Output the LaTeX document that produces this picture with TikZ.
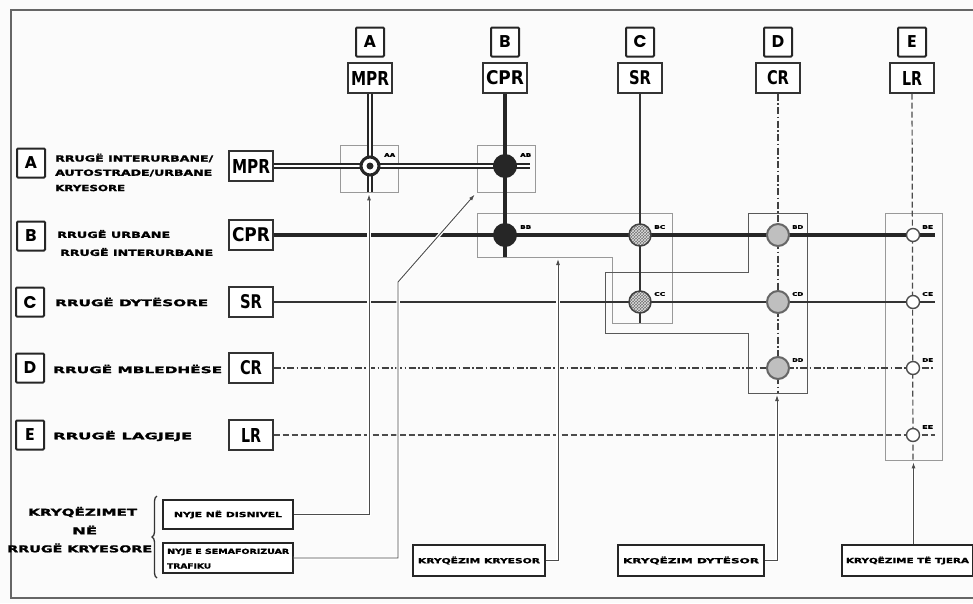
\documentclass[tikz,border=0pt]{standalone}
\usepackage{fontspec}
\usepackage{graphicx}
\usetikzlibrary{arrows.meta,patterns,decorations.pathreplacing}
\newfontfamily\lblfont{DejaVu Sans}[FakeBold=1.5]
\newfontfamily\codefont{DejaVu Sans Condensed}
\newfontfamily\letfont{Poppins}
\newcommand\lw[3]{\resizebox{#1pt}{\height}{\fontsize{#2}{#2}\selectfont\lblfont\bfseries #3}}
\newcommand\cw[2]{\resizebox{#1pt}{14pt}{\codefont\bfseries #2}}
\begin{document}
\begin{tikzpicture}[x=1pt,y=-1pt,
  letbox/.style={draw=black!85, line width=2, minimum width=28, minimum height=29, inner sep=0, fill=white, rounded corners=1, font=\letfont\bfseries\fontsize{17}{17}\selectfont},
  codebox/.style={draw=black!80, line width=1.2, minimum width=44, minimum height=30, inner sep=0, fill=white},
  grp/.style={draw=black!40, line width=0.8},
  grpd/.style={draw=black!65, line width=1},
  txtbox/.style={draw=black!85, line width=1.6, inner sep=0, fill=white},
  conn/.style={draw=black!70, line width=0.9, -{Latex[length=6pt,width=4pt]}, preaction={draw=white, line width=3.5, -}},
  roadA/.style={draw=black!85, line width=1.8, double=white, double distance=1.6},
  roadB/.style={draw=black!85, line width=4},
  roadC/.style={draw=black!80, line width=2.2},
  roadD/.style={draw=black!75, line width=1.4, dash pattern=on 7pt off 2.5pt on 1.5pt off 2.5pt},
  roadE/.style={draw=black!70, line width=1.2, dash pattern=on 6pt off 3pt},
  jblack/.style={circle, fill=black!85, minimum size=24, inner sep=0},
  jhatch/.style={circle, draw=black!75, line width=1.5, minimum size=22, inner sep=0, preaction={fill=black!55}, pattern=crosshatch, pattern color=gray!25},
  jgray/.style={circle, fill=gray!50, draw=black!60, line width=2, minimum size=22, inner sep=0},
  jwhite/.style={circle, fill=white, draw=black!70, line width=1.4, minimum size=13, inner sep=0},
  jring/.style={circle, fill=white, draw=black!85, line width=3, minimum size=18, inner sep=0},
  jl/.style={anchor=west, inner sep=0},
  tx/.style={anchor=west, inner sep=0}]
\useasboundingbox (0,0) rectangle (973,603);
\fill[gray!3] (0,0) rectangle (973,603);
\draw[black!60, line width=1.5] (973,10) -- (11,10) -- (11,598) -- (973,598);

% group boxes
\node[grp, minimum width=58, minimum height=47, inner sep=0] (gAA) at (369,168.5) {};
\node[grp, minimum width=58, minimum height=47, inner sep=0] (gAB) at (506,168.5) {};
\node[grp, minimum width=57, minimum height=247, inner sep=0] (gE) at (913.5,336.5) {};
\draw[grp] (477,213) -- (672,213) -- (672,323) -- (612,323) -- (612,257) -- (477,257) -- cycle;
\draw[grpd] (605,272) -- (748,272) -- (748,213) -- (807,213) -- (807,393) -- (748,393) -- (748,333) -- (605,333) -- cycle;
\coordinate (kT) at (558,257);
\coordinate (dT) at (777,393);
\coordinate (c2) at (398,282);

% top headers
\node[letbox] (tA) at (370,42) {A};
\node[letbox] (tB) at (505,42) {B};
\node[letbox] (tC) at (640,42) {C};
\node[letbox] (tD) at (778,42) {D};
\node[letbox] (tE) at (912,42) {E};
\node[codebox] (tMPR) at (370,78) {\cw{38}{MPR}};
\node[codebox] (tCPR) at (505,78) {\cw{38}{CPR}};
\node[codebox] (tSR) at (640,78) {\cw{22}{SR}};
\node[codebox] (tCR) at (778,78) {\cw{22}{CR}};
\node[codebox] (tLR) at (912,78) {\cw{20}{LR}};

% row headers
\node[letbox] (rA) at (31,163) {A};
\node[letbox] (rB) at (31,236) {B};
\node[letbox] (rC) at (30,302) {C};
\node[letbox] (rD) at (30,368) {D};
\node[letbox] (rE) at (30,435) {E};
\node[codebox] (rMPR) at (251,166) {\cw{38}{MPR}};
\node[codebox] (rCPR) at (251,235) {\cw{38}{CPR}};
\node[codebox] (rSR) at (251,302) {\cw{22}{SR}};
\node[codebox] (rCR) at (251,368) {\cw{22}{CR}};
\node[codebox] (rLR) at (251,435) {\cw{20}{LR}};

\node[tx] (tA1) at (55,158) {\lw{158}{8.5}{RRUGË INTERURBANE/}};
\node[tx] (tA2) at (55,173) {\lw{157}{8.5}{AUTOSTRADE/URBANE}};
\node[tx] (tA3) at (55,188) {\lw{70}{8.5}{KRYESORE}};
\node[tx] (tB1) at (57,234) {\lw{113}{8.5}{RRUGË URBANE}};
\node[tx] (tB2) at (60,252) {\lw{153}{8.5}{RRUGË INTERURBANE}};
\node[tx] (tCt) at (55,302) {\lw{153}{9}{RRUGË DYTËSORE}};
\node[tx] (tDt) at (53,369) {\lw{169}{9}{RRUGË MBLEDHËSE}};
\node[tx] (tEt) at (53,436) {\lw{139}{9}{RRUGË LAGJEJE}};

% road ends
\coordinate (eAv) at (370,192);
\coordinate (eAh) at (530,166);
\coordinate (eBv) at (505,257);
\coordinate (eBh) at (935,235);
\coordinate (eCv) at (640,323);
\coordinate (eCh) at (935,302);
\coordinate (eDv) at (778,393);
\coordinate (eDh) at (935,368);
\coordinate (eEv) at (913,460);
\coordinate (eEh) at (935,435);

% roads
\draw[roadE] (rLR.east) -- (eEh);
\draw[roadE] (tLR.south) -- (eEv);
\draw[roadD] (rCR.east) -- (eDh);
\draw[roadD] (tCR.south) -- (eDv);
\draw[roadC] (rSR.east) -- (eCh);
\draw[roadC] (tSR.south) -- (eCv);
\draw[roadB] (rCPR.east) -- (eBh);
\draw[roadB] (tCPR.south) -- (eBv);
\draw[roadA] (rMPR.east) -- (eAh);
\draw[roadA] (tMPR.south) -- (eAv);

% bottom legend
\node[tx] (kq1) at (28,512) {\lw{109}{9.5}{KRYQËZIMET}};
\node[tx] (kq2) at (72,530) {\lw{25}{9.5}{NË}};
\node[tx] (kq3) at (7,548) {\lw{145}{9.5}{RRUGË KRYESORE}};
\draw[decorate, decoration={brace, amplitude=5pt}, line width=1.3, black!80] (157,578) -- (157,496);
\node[txtbox, minimum width=130, minimum height=29] (b1) at (228,514.5) {\lw{108}{7}{NYJE NË DISNIVEL}};
\node[txtbox, minimum width=130, minimum height=30] (b2) at (228,558) {};
\node[tx] (b2a) at (167,552) {\lw{122}{7}{NYJE E SEMAFORIZUAR}};
\node[tx] (b2b) at (167,566) {\lw{44}{7}{TRAFIKU}};
\node[txtbox, minimum width=132, minimum height=31] (kr) at (479,560.5) {\lw{122}{7}{KRYQËZIM KRYESOR}};
\node[txtbox, minimum width=146, minimum height=31] (dy) at (691,560.5) {\lw{136}{7}{KRYQËZIM DYTËSOR}};
\node[txtbox, minimum width=131, minimum height=31] (tj) at (907.5,560.5) {\lw{123}{7}{KRYQËZIME TË TJERA}};

% connectors
\draw[conn, shorten >=2] (b1.east) -| (gAA.south);
\draw[conn, shorten >=3] (b2.east) -| (c2) -- (gAB.south west);
\draw[conn, shorten >=2] (kr.east) -| (kT);
\draw[conn, shorten >=2] (dy.east) -| (dT);
\draw[conn, shorten >=2] (tj.north -| gE.south) -- (gE.south);

% junctions
\node[jring] (jAA) at (370,166) {};
\node[circle, fill=black!85, minimum size=7, inner sep=0] (jAAc) at (370,166) {};
\node[jblack] (jAB) at (505,166) {};
\node[jblack] (jBB) at (505,235) {};
\node[jhatch] (jBC) at (640,235) {};
\node[jhatch] (jCC) at (640,302) {};
\node[jgray] (jBD) at (778,235) {};
\node[jgray] (jCD) at (778,302) {};
\node[jgray] (jDD) at (778,368) {};
\node[jwhite] (jBE) at (913,235) {};
\node[jwhite] (jCE) at (913,302) {};
\node[jwhite] (jDE) at (913,368) {};
\node[jwhite] (jEE) at (913,435) {};

% junction labels
\node[jl] (lAA) at (384,155) {\lw{11}{5}{AA}};
\node[jl] (lAB) at (520,155) {\lw{11}{5}{AB}};
\node[jl] (lBB) at (520,227) {\lw{11}{5}{BB}};
\node[jl] (lBC) at (654,227) {\lw{11}{5}{BC}};
\node[jl] (lCC) at (654,294) {\lw{11}{5}{CC}};
\node[jl] (lBD) at (792,227) {\lw{11}{5}{BD}};
\node[jl] (lCD) at (792,294) {\lw{11}{5}{CD}};
\node[jl] (lDD) at (792,360) {\lw{11}{5}{DD}};
\node[jl] (lBE) at (922,227) {\lw{11}{5}{BE}};
\node[jl] (lCE) at (922,294) {\lw{11}{5}{CE}};
\node[jl] (lDE) at (922,360) {\lw{11}{5}{DE}};
\node[jl] (lEE) at (922,427) {\lw{11}{5}{EE}};
\end{tikzpicture}
\end{document}
